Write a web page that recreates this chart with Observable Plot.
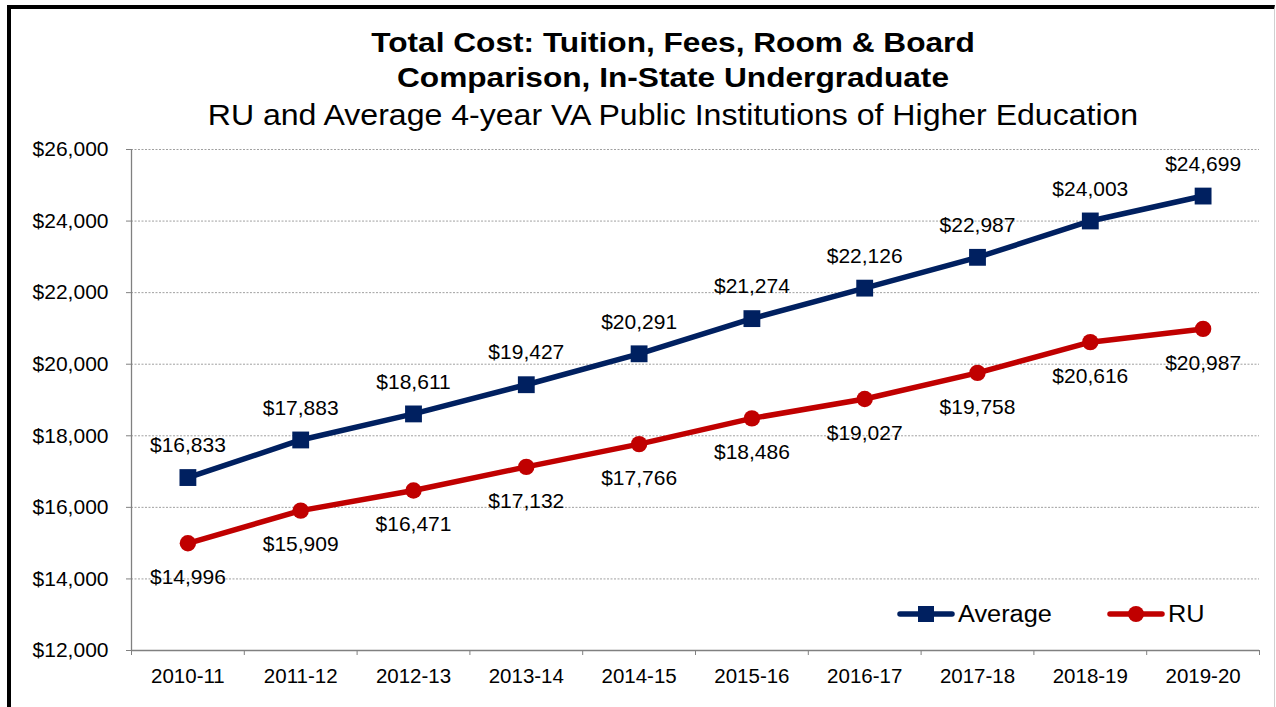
<!DOCTYPE html>
<html><head><meta charset="utf-8">
<script src="https://cdn.jsdelivr.net/npm/d3@7"></script>
<script src="https://cdn.jsdelivr.net/npm/@observablehq/plot@0.6"></script>
<style>
html,body{margin:0;padding:0;background:#fff;width:1276px;height:707px;overflow:hidden;font-family:"Liberation Sans",Arial,sans-serif;}
#frame{position:absolute;left:7px;top:5px;width:1263px;height:720px;border-left:4px solid #000;border-top:4px solid #000;border-right:1px solid #d0d0d0;}
#titles{position:absolute;left:0;top:0;}
#plot{position:absolute;left:0;top:130px;}
#legend{position:absolute;top:600px;left:0;width:1276px;height:30px;}
</style></head>
<body>
<div id="frame"></div>
<svg id="titles" width="1276" height="135"></svg>
<div id="plot"></div>
<svg id="legend" width="1276" height="30"></svg>
<script>
const titleLines = ["Total Cost: Tuition, Fees, Room & Board", "Comparison, In-State Undergraduate"];
const subtitle = "RU and Average 4-year VA Public Institutions of Higher Education";
const years = ["2010-11","2011-12","2012-13","2013-14","2014-15","2015-16","2016-17","2017-18","2018-19","2019-20"];
const average = [16833,17883,18611,19427,20291,21274,22126,22987,24003,24699];
const ru = [14996,15909,16471,17132,17766,18486,19027,19758,20616,20987];
const yTicks = [12000,14000,16000,18000,20000,22000,24000,26000];
const seriesNames = ["Average","RU"];
const colors = {Average:"#002060", RU:"#C00000"};

const FONT = "Liberation Sans, Arial, sans-serif";
const fmt = v => "$" + d3.format(",")(v);

// titles (text in reference is slightly wider than tall, so stretch horizontally)
const ts = d3.select("#titles");
function stretched(sel, txt, x, y, size, weight, sx){
  const t = sel.append("text").attr("x",x).attr("y",y).attr("text-anchor","middle")
    .attr("font-family",FONT).attr("font-size",size).attr("font-weight",weight).attr("fill","#000").text(txt);
  const w = t.node().getComputedTextLength();
  t.attr("textLength", w*sx).attr("lengthAdjust","spacingAndGlyphs");
  return t;
}
stretched(ts, titleLines[0], 673, 51.5, 28, "bold", 1.13);
stretched(ts, titleLines[1], 673, 86.5, 28, "bold", 1.13);
stretched(ts, subtitle, 673, 124.5, 29, "normal", 1.105);

const avgData = years.map((y,i)=>({i:i+0.5, year:y, v:average[i]}));
const ruData = years.map((y,i)=>({i:i+0.5, year:y, v:ru[i]}));
const bounds = d3.range(years.length+1);
const centers = years.map((y,i)=>i+0.5);

const chart = Plot.plot({
  width:1276, height:577,
  marginTop:19, marginBottom:57, marginLeft:131, marginRight:17,
  style:{fontFamily:FONT, fontSize:"21px", color:"#000", background:"transparent"},
  x:{type:"linear", domain:[0,years.length], axis:null},
  y:{domain:[12000,26000], axis:null},
  marks:[
    Plot.gridY(yTicks.filter(d=>d>12000), {stroke:"#a0a0a0", strokeOpacity:1, strokeDasharray:"2,1.5", strokeWidth:1}),
    Plot.ruleX([0], {stroke:"#808080", strokeWidth:1.3}),
    Plot.ruleY([12000], {stroke:"#808080", strokeWidth:1.3}),
    Plot.axisY({ticks:yTicks, tickFormat:fmt, tickSize:5, tickPadding:18, stroke:"#808080", fontSize:21, label:null}),
    Plot.axisX({ticks:bounds, tickFormat:()=>"", tickSize:5, stroke:"#808080", label:null}),
    Plot.axisX({ticks:centers, tickFormat:(d)=>years[Math.round(d-0.5)], tickSize:0, tickPadding:18, fontSize:20.5, label:null}),
    Plot.line(ruData, {x:"i", y:"v", stroke:colors.RU, strokeWidth:5.5, strokeLinejoin:"round"}),
    Plot.dot(ruData, {x:"i", y:"v", r:8.2, fill:colors.RU, stroke:"none"}),
    Plot.line(avgData, {x:"i", y:"v", stroke:colors.Average, strokeWidth:5.5, strokeLinejoin:"round"}),
    Plot.dot(avgData, {x:"i", y:"v", symbol:"square", r:9.5, fill:colors.Average, stroke:"none"}),
    Plot.text(avgData, {x:"i", y:"v", text:d=>fmt(d.v), dy:-32, fontSize:21, fill:"#000"}),
    Plot.text(ruData, {x:"i", y:"v", text:d=>fmt(d.v), dy:34, fontSize:21, fill:"#000"})
  ]
});
document.getElementById("plot").appendChild(chart);

// legend
const lg = d3.select("#legend");
const items = [{name:seriesNames[0], x0:897, sym:"square"},{name:seriesNames[1], x0:1107, sym:"circle"}];
items.forEach(it=>{
  const c = colors[it.name];
  lg.append("line").attr("x1",it.x0+3).attr("x2",it.x0+55).attr("y1",14).attr("y2",14)
    .attr("stroke",c).attr("stroke-width",5.5).attr("stroke-linecap","round");
  if(it.sym==="square") lg.append("rect").attr("x",it.x0+21).attr("y",6).attr("width",16).attr("height",16).attr("fill",c);
  else lg.append("circle").attr("cx",it.x0+29).attr("cy",14).attr("r",8).attr("fill",c);
  const t = lg.append("text").attr("x",it.x0+61).attr("y",22).attr("font-size",23).attr("font-family",FONT).attr("fill","#000").text(it.name);
  const w = t.node().getComputedTextLength();
  t.attr("textLength", w*1.1).attr("lengthAdjust","spacingAndGlyphs");
});
</script>
</body></html>
